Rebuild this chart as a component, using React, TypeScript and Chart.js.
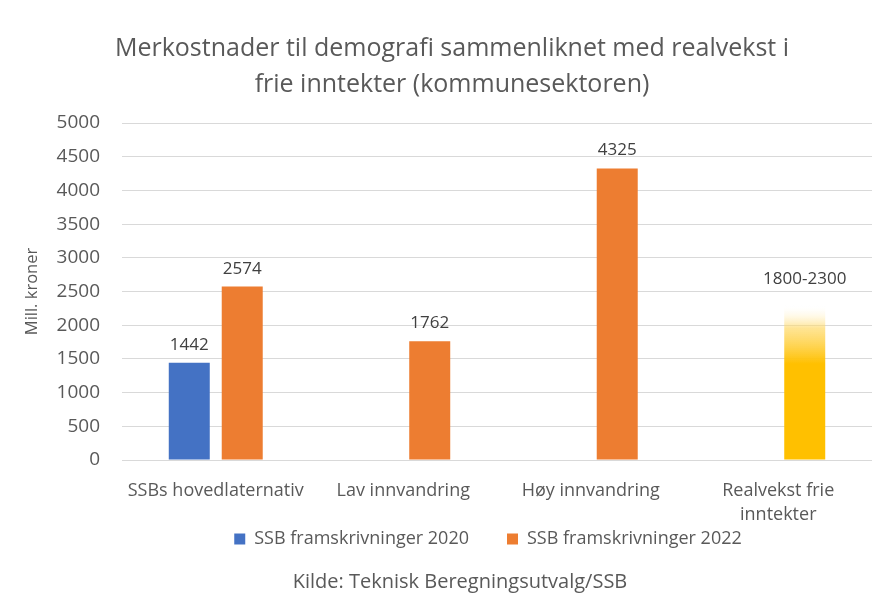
import React, { useEffect, useRef } from "react";
import { Chart, registerables } from "chart.js";

Chart.register(...registerables);

const categories: (string | string[])[] = [
  "SSBs hovedlaternativ",
  "Lav innvandring",
  "Høy innvandring",
  ["Realvekst frie", "inntekter"],
];
const series2020: (number | null)[] = [1442, null, null, null];
const series2022: (number | null)[] = [2574, 1762, 4325, null];
const realvekstRange: number[] = [1800, 2300];
const realvekstSeries: (number | null)[] = [null, null, null, realvekstRange[1]];
const seriesNames: string[] = ["SSB framskrivninger 2020", "SSB framskrivninger 2022", "Realvekst frie inntekter"];
const yMin = 0;
const yMax = 5000;
const yStep = 500;
const titleLines: string[] = [
  "Merkostnader til demografi sammenliknet med realvekst i",
  "frie inntekter (kommunesektoren)",
];
const yAxisTitle = "Mill. kroner";
const sourceText = "Kilde: Teknisk Beregningsutvalg/SSB";

const FONT = "'Open Sans', 'Noto Sans', sans-serif";

const valueLabels = {
  id: "valueLabels",
  afterDatasetsDraw(chart: any) {
    const ctx = chart.ctx;
    ctx.save();
    ctx.font = `17px ${FONT}`;
    ctx.fillStyle = "#404040";
    ctx.textAlign = "center";
    ctx.textBaseline = "alphabetic";
    chart.data.datasets.forEach((ds: any, di: number) => {
      const meta = chart.getDatasetMeta(di);
      meta.data.forEach((el: any, i: number) => {
        const v = ds.data[i];
        if (v === null || v === undefined) return;
        const text = di === 2 ? `${realvekstRange[0]}-${realvekstRange[1]}` : String(v);
        const off = di === 2 ? 21 : 13;
        ctx.fillText(text, el.x, el.y - off);
      });
    });
    ctx.restore();
  },
};

// compact legend height (wide horizontal gap, small vertical footprint) and
// shift the centred boxes (title, legend, source line) like the original
const LEGEND_HEIGHT = 38;
const boxShift = {
  id: "boxShift",
  beforeLayout(chart: any) {
    const lg = chart.legend;
    if (lg && !lg.__compact) {
      const orig = lg.fit;
      lg.fit = function (this: any) {
        orig.call(this);
        this.height = LEGEND_HEIGHT;
      };
      lg.__compact = true;
    }
  },
  afterLayout(chart: any) {
    const scales = Object.values(chart.scales);
    chart.boxes.forEach((b: any) => {
      if (scales.includes(b)) return;
      if (b === chart.legend) {
        b.left += 52;
        b.right += 52;
        b.top -= 34;
      } else if (b === chart.titleBlock) {
        b.left += 16;
        b.right += 16;
      } else {
        b.left += 24;
        b.right += 24;
      }
    });
  },
};

export default function App() {
  const ref = useRef<HTMLCanvasElement | null>(null);

  useEffect(() => {
    document.body.style.margin = "0";
    if (!ref.current) return;
    Chart.defaults.font.family = FONT;
    const chart = new Chart(ref.current, {
      type: "bar",
      data: {
        labels: categories,
        datasets: [
          {
            label: seriesNames[0],
            data: series2020,
            backgroundColor: "#4472C4",
            stack: "a",
          },
          {
            label: seriesNames[1],
            data: series2022,
            backgroundColor: "#ED7D31",
            stack: "b",
          },
          {
            label: seriesNames[2],
            data: realvekstSeries,
            stack: "b",
            backgroundColor: (c: any) => {
              const ch = c.chart;
              const { chartArea, scales } = ch;
              if (!chartArea) return "#FFC000";
              const y0 = scales.y.getPixelForValue(0);
              const y1 = scales.y.getPixelForValue(realvekstRange[1]);
              const g = ch.ctx.createLinearGradient(0, y0, 0, y1);
              g.addColorStop(0, "#FFC000");
              g.addColorStop(0.62, "#FFC000");
              g.addColorStop(0.85, "rgba(255,214,90,0.65)");
              g.addColorStop(1, "rgba(255,255,255,0)");
              return g;
            },
          },
        ],
      },
      options: {
        animation: false,
        responsive: true,
        maintainAspectRatio: false,
        datasets: {
          bar: {
            categoryPercentage: 0.565,
            barPercentage: 0.774,
          },
        },
        layout: { padding: { left: 0, right: 5, top: 0, bottom: 0 } },
        plugins: {
          title: {
            display: true,
            text: titleLines,
            color: "#595959",
            font: { size: 25, weight: "normal", family: FONT, lineHeight: 1.42 },
            padding: { top: 31.5, bottom: 20.5 },
          },
          subtitle: {
            display: true,
            position: "bottom",
            text: sourceText,
            color: "#595959",
            font: { size: 20, weight: "normal", family: FONT, lineHeight: 1.2 },
            padding: { top: 6, bottom: 12 },
          },
          legend: {
            position: "bottom",
            labels: {
              color: "#595959",
              font: { size: 18, family: FONT },
              boxWidth: 11,
              boxHeight: 11,
              padding: 38,
              filter: (item: any) => item.datasetIndex !== 2,
            },
          },
          tooltip: { enabled: false },
        },
        scales: {
          x: {
            grid: { display: false, drawTicks: false },
            border: { display: false },
            ticks: {
              color: "#595959",
              font: { size: 18, family: FONT, lineHeight: 1.33 },
              padding: 19,
              maxRotation: 0,
              autoSkip: false,
            },
            afterFit: (scale: any) => {
              scale.height = 66;
            },
          },
          y: {
            min: yMin,
            max: yMax,
            border: { display: false },
            grid: { color: "#D9D9D9", drawTicks: false },
            ticks: {
              stepSize: yStep,
              color: "#595959",
              font: { size: 19, family: FONT },
              padding: 22,
              callback: (v: any) => String(v),
            },
            title: {
              display: true,
              text: yAxisTitle,
              color: "#595959",
              font: { size: 16.5, family: FONT, lineHeight: 1.2 },
              padding: { top: 22, bottom: 0 },
            },
            afterFit: (scale: any) => {
              scale.width = 122;
            },
          },
        },
      },
      plugins: [valueLabels, boxShift],
    });
    return () => chart.destroy();
  }, []);

  return (
    <div style={{ position: "fixed", left: 0, top: 0, width: 877, height: 606, background: "#fff" }}>
      <canvas ref={ref} />
    </div>
  );
}
